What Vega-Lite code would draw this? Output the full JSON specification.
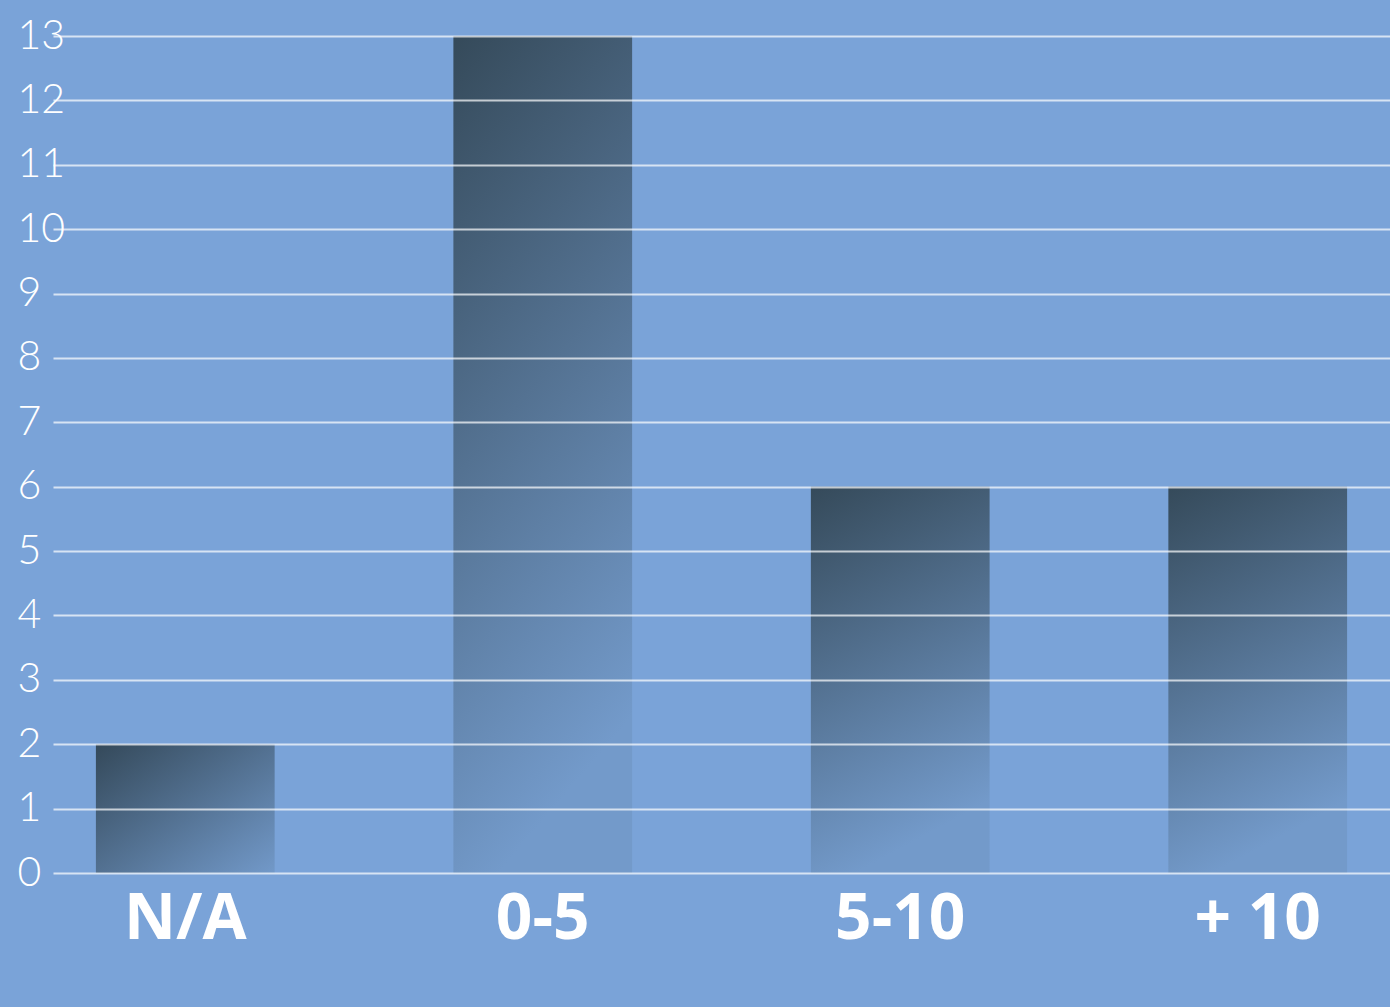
{
  "$schema": "https://vega.github.io/schema/vega-lite/v6.json",
  "width": 1337,
  "height": 837,
  "autosize": {"type": "none"},
  "padding": {"left": 53, "top": 36, "right": 0, "bottom": 134},
  "background": "#7AA3D8",
  "config": {"view": {"stroke": null}},
  "data": {"values": [
    {"group": "N/A", "count": 2},
    {"group": "0-5", "count": 13},
    {"group": "5-10", "count": 6},
    {"group": "+ 10", "count": 6}
  ]},
  "mark": {"type": "bar"},
  "encoding": {
    "x": {
      "field": "group", "type": "nominal", "sort": null,
      "scale": {"paddingInner": 0.5, "paddingOuter": 0.12},
      "axis": {"title": null, "labelAngle": 0, "domain": false, "ticks": false,
        "labelFont": "Open Sans", "labelFontWeight": "bold", "labelFontSize": 64,
        "labelColor": "#FFFFFF", "labelBaseline": "top", "labelPadding": 14}
    },
    "y": {
      "field": "count", "type": "quantitative",
      "scale": {"domain": [0, 13], "nice": false},
      "axis": {"title": null, "values": [0,1,2,3,4,5,6,7,8,9,10,11,12,13],
        "domain": false, "ticks": false, "grid": true, "gridColor": "#FFFFFF",
        "gridOpacity": 0.7, "gridWidth": 2, "zindex": 1,
        "labelFont": "Lato", "labelFontWeight": 300, "labelFontSize": 41,
        "labelColor": "#FFFFFF", "labelAlign": "left", "labelPadding": 36,
        "labelBaseline": "middle"}
    },
    "color": {
      "condition": {
        "test": "datum.group === 'N/A'",
        "value": {"gradient": "linear", "x1": 0, "y1": 0, "x2": 1, "y2": 1,
          "stops": [{"offset": 0, "color": "#34495A"}, {"offset": 1, "color": "#7299C9"}]}
      },
      "value": {"gradient": "linear", "x1": 0, "y1": 0, "x2": 0.25, "y2": 1,
        "stops": [{"offset": 0, "color": "#354A5A"}, {"offset": 1, "color": "#739ACA"}]}
    }
  }
}
